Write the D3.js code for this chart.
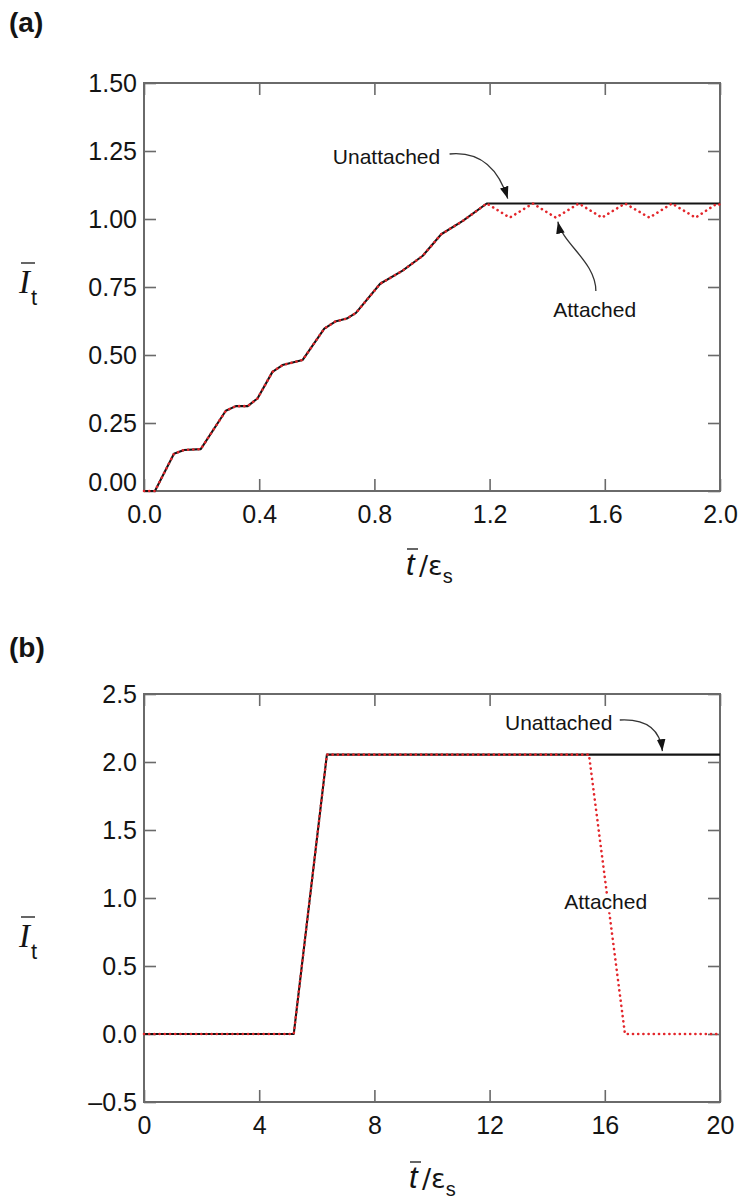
<!DOCTYPE html>
<html><head><meta charset="utf-8">
<script src="https://cdn.jsdelivr.net/npm/d3@7"></script>
<style>body{margin:0;background:#fff} svg{display:block}</style>
</head><body>
<svg id="chart" width="740" height="1200"></svg>
<script>
// ---------- Panel (a) data ----------
const aRiseX = [0, 0.038, 0.104, 0.139, 0.197, 0.284, 0.319, 0.36, 0.394, 0.446, 0.481, 0.551, 0.626, 0.664, 0.704, 0.736, 0.82, 0.898, 0.968, 1.032, 1.107, 1.19];
const aRiseY = [0, 0, 0.137, 0.151, 0.154, 0.295, 0.312, 0.312, 0.34, 0.438, 0.463, 0.482, 0.597, 0.623, 0.634, 0.655, 0.762, 0.81, 0.865, 0.944, 0.993, 1.057];
const aUnattachedTailX = [2.0];
const aUnattachedTailY = [1.057];
const aAttachedTailX = [1.27, 1.35, 1.43, 1.51, 1.59, 1.67, 1.755, 1.833, 1.915, 1.99, 2.0];
const aAttachedTailY = [1.005, 1.057, 1.005, 1.057, 1.005, 1.057, 1.005, 1.057, 1.005, 1.057, 1.052];
const aXTicks = [0, 0.4, 0.8, 1.2, 1.6, 2.0];
const aXTickLabels = ["0.0", "0.4", "0.8", "1.2", "1.6", "2.0"];
const aYTicks = [0, 0.25, 0.5, 0.75, 1.0, 1.25, 1.5];
const aYTickLabels = ["0.00", "0.25", "0.50", "0.75", "1.00", "1.25", "1.50"];

// ---------- Panel (b) data ----------
const bUnattachedX = [0, 5.2, 6.35, 20];
const bUnattachedY = [0, 0, 2.054, 2.054];
const bAttachedX = [0, 5.2, 6.35, 15.45, 16.7, 20];
const bAttachedY = [0, 0, 2.054, 2.054, 0, 0];
const bXTicks = [0, 4, 8, 12, 16, 20];
const bXTickLabels = ["0", "4", "8", "12", "16", "20"];
const bYTicks = [-0.5, 0, 0.5, 1.0, 1.5, 2.0, 2.5];
const bYTickLabels = ["\u20130.5", "0.0", "0.5", "1.0", "1.5", "2.0", "2.5"];

const SANS = "'Liberation Sans', Arial, Helvetica, sans-serif";
const SERIF = "'Liberation Serif', 'Times New Roman', serif";
const AXIS_COLOR = "#6a6a6a";
const INK = "#141414";
const RED = "#e3262b";

const svg = d3.select('#chart');
const defs = svg.append('defs');
defs.append('marker').attr('id', 'arrowHead')
  .attr('viewBox', '0 0 10 10').attr('refX', 10).attr('refY', 5)
  .attr('markerWidth', 12).attr('markerHeight', 12)
  .attr('markerUnits', 'userSpaceOnUse').attr('orient', 'auto')
  .append('path').attr('d', 'M0,1.4 L10,5 L0,8.6 z').attr('fill', INK);

function zip(xs, ys) { return xs.map((v, i) => [v, ys[i]]); }

function drawPanel(p) {
  const g = svg.append('g');
  const x = d3.scaleLinear().domain(p.xDomain).range([p.left, p.right]);
  const y = d3.scaleLinear().domain(p.yDomain).range([p.bottom, p.top]);

  // frame
  g.append('rect').attr('x', p.left).attr('y', p.top)
    .attr('width', p.right - p.left).attr('height', p.bottom - p.top)
    .attr('fill', 'none').attr('stroke', AXIS_COLOR).attr('stroke-width', 2);

  const styleAxis = sel => {
    sel.select('.domain').remove();
    sel.selectAll('.tick line').attr('stroke', AXIS_COLOR).attr('stroke-width', 1.6);
    sel.selectAll('.tick text').attr('fill', INK).style('font-family', SANS).style('font-size', '25px');
  };
  const bottom = g.append('g').attr('transform', `translate(0,${p.bottom})`)
    .call(d3.axisBottom(x).tickValues(p.xTicks).tickFormat((d, i) => p.xTickLabels[i])
      .tickSizeInner(-12).tickSizeOuter(0).tickPadding(14));
  styleAxis(bottom);
  const top = g.append('g').attr('transform', `translate(0,${p.top})`)
    .call(d3.axisTop(x).tickValues(p.xTicks).tickFormat('').tickSizeInner(-12).tickSizeOuter(0));
  styleAxis(top);
  const left = g.append('g').attr('transform', `translate(${p.left},0)`)
    .call(d3.axisLeft(y).tickValues(p.yTicks).tickFormat((d, i) => p.yTickLabels[i])
      .tickSizeInner(-12).tickSizeOuter(0).tickPadding(7));
  styleAxis(left);
  if (p.firstYLabelShift) {
    left.selectAll('.tick text').filter((d, i) => i === 0).attr('y', -p.firstYLabelShift);
  }
  const right = g.append('g').attr('transform', `translate(${p.right},0)`)
    .call(d3.axisRight(y).tickValues(p.yTicks).tickFormat('').tickSizeInner(-12).tickSizeOuter(0));
  styleAxis(right);

  const line = d3.line().x(d => x(d[0])).y(d => y(d[1]));
  g.append('path').datum(p.unattached).attr('d', line)
    .attr('fill', 'none').attr('stroke', INK).attr('stroke-width', 2.1).attr('stroke-linejoin', 'round');
  g.append('path').datum(p.attached).attr('d', line)
    .attr('fill', 'none').attr('stroke', RED).attr('stroke-width', 2.6)
    .attr('stroke-linecap', 'round').attr('stroke-dasharray', '0.1 5.1');

  // annotations
  p.labels.forEach(l => {
    const t = g.append('text').attr('x', x(l.at[0])).attr('y', y(l.at[1])).attr('dy', '0.35em')
      .attr('text-anchor', 'middle').style('font-family', SANS).style('font-size', '21px')
      .attr('fill', INK).text(l.text);
    if (l.halo) t.attr('stroke', '#fff').attr('stroke-width', 7).attr('paint-order', 'stroke');
  });
  p.arrows.forEach(a => {
    const pts = a.map(d => [x(d[0]), y(d[1])]);
    let d;
    if (pts.length === 3) d = `M${pts[0]} Q${pts[1]} ${pts[2]}`;
    else d = `M${pts[0]} C${pts[1]} ${pts[2]} ${pts[3]}`;
    g.append('path').attr('d', d).attr('fill', 'none').attr('stroke', '#333')
      .attr('stroke-width', 1.3).attr('marker-end', 'url(#arrowHead)');
  });

  // panel letter
  g.append('text').attr('x', 9).attr('y', p.letterY).style('font-family', SANS)
    .style('font-size', '28px').style('font-weight', 'bold').attr('fill', INK).text(p.letter);

  // y title: I-bar subscript t
  const yi = g.append('text').attr('x', p.yTitle[0]).attr('y', p.yTitle[1])
    .style('font-family', SERIF).style('font-style', 'italic').style('font-size', '33px')
    .attr('fill', INK).text('I');
  const ib = yi.node().getBBox();
  g.append('line').attr('x1', ib.x + 3).attr('x2', ib.x + ib.width + 3)
    .attr('y1', p.yTitle[1] - 30).attr('y2', p.yTitle[1] - 30)
    .attr('stroke', INK).attr('stroke-width', 1.3);
  g.append('text').attr('x', ib.x + ib.width - 1).attr('y', p.yTitle[1] + 12)
    .style('font-family', SANS).style('font-size', '22px').attr('fill', INK).text('t');

  // x title: t-bar / epsilon_s
  const xt = g.append('text').attr('x', p.xTitle[0]).attr('y', p.xTitle[1])
    .style('font-family', SANS).style('font-style', 'italic').style('font-size', '31px')
    .attr('fill', INK).text('t');
  const tb = xt.node().getBBox();
  g.append('line').attr('x1', tb.x + 1).attr('x2', tb.x + tb.width + 2)
    .attr('y1', p.xTitle[1] - 26).attr('y2', p.xTitle[1] - 26)
    .attr('stroke', INK).attr('stroke-width', 1.3);
  const rest = g.append('text').attr('x', tb.x + tb.width + 3).attr('y', p.xTitle[1])
    .style('font-family', "'DejaVu Sans', sans-serif").style('font-size', '27px').attr('fill', INK);
  rest.append('tspan').text('/\u03B5');
  rest.append('tspan').attr('dy', 8).style('font-family', SANS).style('font-size', '20px').text('s');
}

drawPanel({
  letter: '(a)', letterY: 32,
  left: 144, right: 720, top: 83, bottom: 491,
  xDomain: [0, 2], yDomain: [0, 1.5],
  xTicks: aXTicks, xTickLabels: aXTickLabels, yTicks: aYTicks, yTickLabels: aYTickLabels,
  firstYLabelShift: 9,
  unattached: zip(aRiseX.concat(aUnattachedTailX), aRiseY.concat(aUnattachedTailY)),
  attached: zip(aRiseX.concat(aAttachedTailX), aRiseY.concat(aAttachedTailY)),
  labels: [{ text: 'Unattached', at: [0.842, 1.228] }, { text: 'Attached', at: [1.565, 0.665] }],
  arrows: [
    [[1.061, 1.239], [1.21, 1.254], [1.263, 1.075]],
    [[1.569, 0.735], [1.569, 0.842], [1.454, 0.908], [1.437, 0.99]]
  ],
  yTitle: [19, 293], xTitle: [406, 575]
});

drawPanel({
  letter: '(b)', letterY: 657,
  left: 144, right: 720, top: 694, bottom: 1102,
  xDomain: [0, 20], yDomain: [-0.5, 2.5],
  xTicks: bXTicks, xTickLabels: bXTickLabels, yTicks: bYTicks, yTickLabels: bYTickLabels,
  unattached: zip(bUnattachedX, bUnattachedY),
  attached: zip(bAttachedX, bAttachedY),
  labels: [{ text: 'Unattached', at: [14.4, 2.287] }, { text: 'Attached', at: [16.03, 0.971], halo: true }],
  arrows: [
    [[16.52, 2.309], [17.88, 2.324], [18.0, 2.08]]
  ],
  yTitle: [19, 947], xTitle: [409, 1188]
});
</script>
</body></html>
